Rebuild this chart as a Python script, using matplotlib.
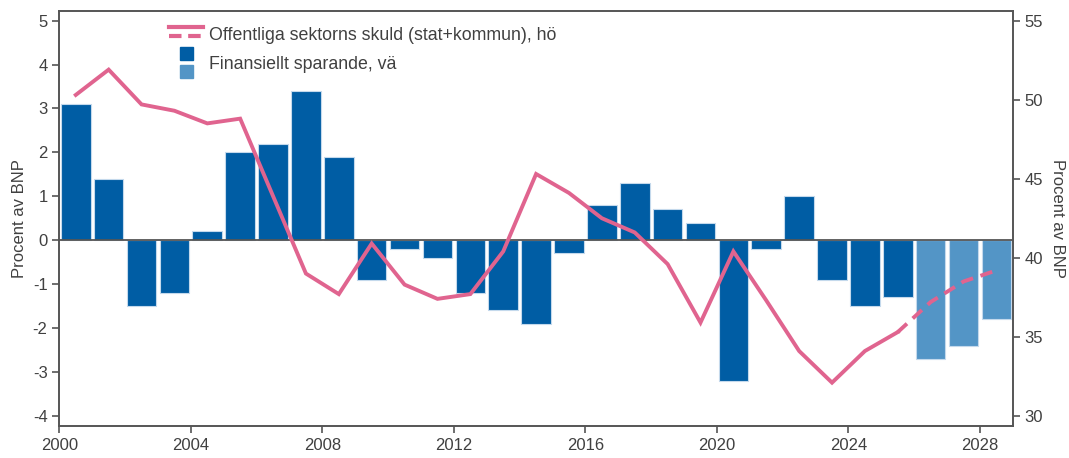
import matplotlib.pyplot as plt
import numpy as np
from matplotlib.lines import Line2D
from matplotlib.patches import Rectangle
from matplotlib.legend_handler import HandlerBase

plt.rcParams['font.family'] = ['Liberation Sans', 'DejaVu Sans']
plt.rcParams['axes.unicode_minus'] = False

years = list(range(2000, 2029))
# Finansiellt sparande, procent av BNP (2026-2028 prognos)
sparande = [3.1, 1.4, -1.5, -1.2, 0.2, 2.0, 2.2, 3.4, 1.9, -0.9,
            -0.2, -0.4, -1.2, -1.6, -1.9, -0.3, 0.8, 1.3, 0.7, 0.4,
            -3.2, -0.2, 1.0, -0.9, -1.5, -1.3, -2.7, -2.4, -1.8]
first_forecast = 2026
# Offentliga sektorns skuld, procent av BNP
skuld = [50.3, 51.9, 49.7, 49.3, 48.5, 48.8, 43.9, 39.0, 37.7, 40.9,
         38.3, 37.4, 37.7, 40.4, 45.3, 44.1, 42.5, 41.6, 39.6, 35.9,
         40.4, 37.3, 34.1, 32.1, 34.1, 35.3, 37.2, 38.5, 39.2]
last_outcome_debt = 2025

dark_blue = '#005da4'
light_blue = '#5395c6'
pink = '#e0648f'
text_col = '#404040'
spine_col = '#555555'


class SplitLineHandler(HandlerBase):
    def create_artists(self, legend, orig_handle, xdescent, ydescent,
                       width, height, fontsize, trans):
        solid = Line2D([-xdescent, width - xdescent], [height * 0.75] * 2,
                       color=pink, lw=3, transform=trans)
        dashed = Line2D([-xdescent, width - xdescent], [height * 0.22] * 2,
                        color=pink, lw=3, ls=(0, (3.0, 1.6)), transform=trans)
        return [solid, dashed]


class StackedBoxHandler(HandlerBase):
    def create_artists(self, legend, orig_handle, xdescent, ydescent,
                       width, height, fontsize, trans):
        s = 9.4
        gap = 1.6
        cx = width / 2 - xdescent
        cy = height / 2 - ydescent + 0.5
        top = Rectangle((cx - s / 2, cy + gap), s, s,
                        color=dark_blue, transform=trans)
        bot = Rectangle((cx - s / 2, cy - gap - s), s, s,
                        color=light_blue, transform=trans)
        return [top, bot]


fig = plt.figure(figsize=(10.69, 4.58), dpi=100)
ax = fig.add_axes([0.0555, 0.07, 0.892, 0.907])
ax2 = ax.twinx()

x = np.array(years) + 0.5
colors = [light_blue if y >= first_forecast else dark_blue for y in years]
ax.bar(x, sparande, width=0.9, color=colors, edgecolor='#c4d9ec',
       linewidth=0.8, zorder=2)
ax.axhline(0, color=spine_col, lw=1.3, zorder=3)

yrs = np.array(years)
solid = yrs <= last_outcome_debt
dash = yrs >= last_outcome_debt
ax2.plot(x[solid], np.array(skuld)[solid], color=pink, lw=2.8,
         solid_joinstyle='miter')
ax2.plot(x[dash], np.array(skuld)[dash], color=pink, lw=2.8,
         ls=(0, (3.2, 2.0)))

lo, hi = -4.23, 5.23
ax.set_ylim(lo, hi)
ax2.set_ylim(30 + (lo + 4) * 25 / 9, 30 + (hi + 4) * 25 / 9)
ax.set_xlim(2000, 2029)
ax.set_xticks(range(2000, 2029, 4))
ax.set_yticks(range(-4, 6))
ax2.set_yticks(range(30, 56, 5))

ax.set_ylabel('Procent av BNP', fontsize=12, color=text_col, labelpad=4)
ax2.set_ylabel('Procent av BNP', fontsize=12, color=text_col,
               rotation=270, labelpad=16)

for a in (ax, ax2):
    a.tick_params(labelsize=12, colors=spine_col, labelcolor=text_col,
                  length=5, width=1.2, direction='out')
    for s in a.spines.values():
        s.set_color(spine_col)
        s.set_linewidth(1.2)

h1 = Line2D([], [])
h2 = Rectangle((0, 0), 1, 1)
leg = ax2.legend([h1, h2],
                 ['Offentliga sektorns skuld (stat+kommun), hö',
                  'Finansiellt sparande, vä'],
                 handler_map={Line2D: SplitLineHandler(),
                              Rectangle: StackedBoxHandler()},
                 loc='upper left', bbox_to_anchor=(0.098, 1.003),
                 frameon=False, fontsize=12.8, handlelength=1.95,
                 handleheight=1.05, labelspacing=0.65, handletextpad=0.3,
                 labelcolor=text_col)

fig.savefig('out.png', dpi=100)
